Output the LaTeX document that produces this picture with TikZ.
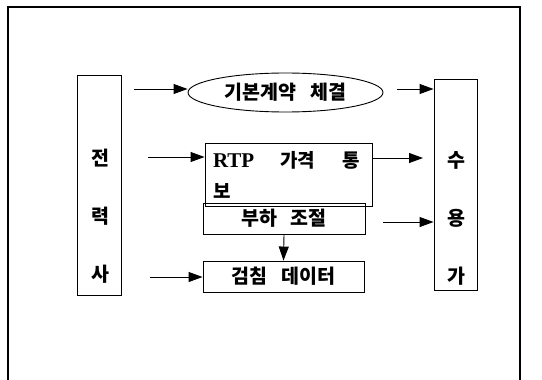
\documentclass[tikz,border=0pt]{standalone}
\usepackage{fontspec}
\setmainfont{Liberation Serif}
\newfontfamily\kr{Noto Sans CJK KR}
\newcommand\krwide{\kr\bfseries\spaceskip=14pt\relax}
\usetikzlibrary{shapes.geometric,arrows.meta}
\begin{document}
\begin{tikzpicture}[x=1pt,y=-1pt,
  box/.style={draw,line width=0.9pt,rectangle,inner sep=0pt},
  oval/.style={draw,line width=0.9pt,ellipse,inner sep=0pt},
  arr/.style={line width=0.9pt,-{Triangle[length=14pt,width=10pt]}},
  txt/.style={font=\fontsize{19.5}{20}\selectfont\krwide},
  vtxt/.style={font=\fontsize{19.5}{58}\selectfont\kr\bfseries,align=center}]
\useasboundingbox (0,0) rectangle (542,380);
% outer frame
\draw[line width=1.3pt] (8,380) -- (8,7) -- (520,7) -- (520,380);
% side boxes
\node[box,minimum width=44pt,minimum height=220pt] (L) at (99,185) {};
\node[vtxt] (Lt) at (100,216) {전\\력\\사};
\node[box,minimum width=43pt,minimum height=211pt] (R) at (455.5,184.5) {};
\node[vtxt] (Rt) at (456,218) {수\\용\\가};
% middle nodes
\node[oval,minimum width=195pt,minimum height=39pt,txt] (E) at (285.5,92.5) {기본계약 체결};
\node[box,minimum width=167pt,minimum height=63pt,inner xsep=8pt,text width=151pt,align=left,
      font=\fontsize{19}{31}\selectfont] (P) at (288.5,174.5)
      {\makebox[67pt][l]{\fontsize{21}{31}\selectfont\bfseries RTP}\makebox[63pt][l]{\kr\bfseries 가격}{\kr\bfseries 통}\\{\kr\bfseries 보}};
\node[box,minimum width=162pt,minimum height=31pt,txt] (C) at (284,218.5) {부하 조절};
\node[box,minimum width=161pt,minimum height=31pt,txt] (D) at (283.5,276.5) {검침 데이터};
% connector end coordinates
\coordinate (s1) at (134,89);
\coordinate (s2) at (397,89);
\coordinate (s3) at (148,157);
\coordinate (e4) at (423,158);
\coordinate (s5) at (383,222);
\coordinate (s7) at (150,277);
% connectors
\draw[arr] (s1) -- (s1 -| E.west);
\draw[arr] (s2) -- (s2 -| R.west);
\draw[arr] (s3) -- (s3 -| P.west);
\draw[arr] (e4 -| P.east) -- (e4);
\draw[arr] (s5) -- (s5 -| R.west);
\draw[arr] (C.south) -- (D.north);
\draw[arr] (s7) -- (s7 -| D.west);
\end{tikzpicture}
\end{document}
